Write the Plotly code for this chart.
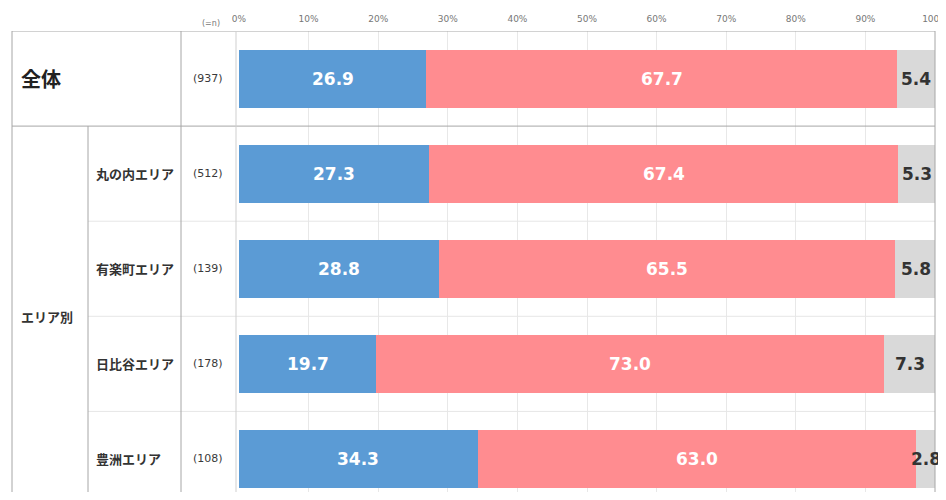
import plotly.graph_objects as go

rows = ["全体", "丸の内エリア", "有楽町エリア", "日比谷エリア", "豊洲エリア"]
n_labels = ["(937)", "(512)", "(139)", "(178)", "(108)"]
group_label = "エリア別"
s1 = [26.9, 27.3, 28.8, 19.7, 34.3]
s2 = [67.7, 67.4, 65.5, 73.0, 63.0]
s3 = [5.4, 5.3, 5.8, 7.3, 2.8]
tick_vals = [0, 10, 20, 30, 40, 50, 60, 70, 80, 90, 100]
tick_text = ["0%", "10%", "20%", "30%", "40%", "50%", "60%", "70%", "80%", "90%", "100%"]

colors = ["#5B9BD5", "#FF8C90", "#D9D9D9"]
series = [s1, s2, s3]
ypos = list(range(len(rows)))

# page body has an 8px margin; compensate so that page pixels match the reference
O = 8
W, H = 938, 484
L = 239 - O
R = W - (935 - O)
T = 31 - O
B = 0
pw = W - L - R

def px(x):
    return (x - O - L) / pw

def py_paper(y):
    return 1 - (y - O - T) / (H - T - B)

fig = go.Figure()
for vals, col in zip(series, colors):
    fig.add_trace(go.Bar(x=vals, y=ypos, orientation="h", marker=dict(color=col, line=dict(width=0)),
                         width=0.61, showlegend=False, hoverinfo="skip"))

# value labels centered in each segment
for i in range(len(rows)):
    cum = 0
    for k, vals in enumerate(series):
        v = vals[i]
        fig.add_annotation(x=cum + v / 2, y=ypos[i], text=f"<b>{v:.1f}</b>", showarrow=False,
                           font=dict(size=17, color="white" if k < 2 else "#333333", family="DejaVu Sans"),
                           xref="x", yref="y")
        cum += v

# row / n labels
fig.add_annotation(x=px(19), y=0, xref="paper", yref="y", text="<b>" + rows[0] + "</b>", showarrow=False,
                   xanchor="left", font=dict(size=20, color="#222222", family="Noto Sans CJK JP"))
for i in range(1, len(rows)):
    fig.add_annotation(x=px(94), y=ypos[i], xref="paper", yref="y", text="<b>" + rows[i] + "</b>", showarrow=False,
                       xanchor="left", font=dict(size=13, color="#333333", family="Noto Sans CJK JP"))
for i in range(len(rows)):
    fig.add_annotation(x=px(208), y=ypos[i], xref="paper", yref="y", text=n_labels[i], showarrow=False,
                       xanchor="center", font=dict(size=11, color="#3A3A3A", family="DejaVu Sans"))
fig.add_annotation(x=px(19), y=(1 + len(rows) - 1) / 2, xref="paper", yref="y",
                   text="<b>" + group_label + "</b>", showarrow=False, xanchor="left",
                   font=dict(size=13, color="#333333", family="Noto Sans CJK JP"))
fig.add_annotation(x=px(211), y=py_paper(23), xref="paper", yref="paper", text="(=n)",
                   showarrow=False, xanchor="center", yanchor="middle",
                   font=dict(size=8, color="#777777", family="DejaVu Sans"))

# table lines
line_dark = "#A6A6A6"
line_faint = "#E6E6E6"
shapes = []
for yv in [-0.5, 0.5]:
    shapes.append(dict(type="line", xref="paper", yref="y", x0=px(12), x1=px(935), y0=yv, y1=yv,
                       line=dict(color=line_dark, width=1)))
for yv in [1.5, 2.5, 3.5]:
    shapes.append(dict(type="line", xref="paper", yref="y", x0=px(88), x1=px(935), y0=yv, y1=yv,
                       line=dict(color=line_faint, width=1)))
for xv, y0 in [(12, -0.5), (181, -0.5), (236, -0.5), (935, -0.5), (88, 0.5)]:
    shapes.append(dict(type="line", xref="paper", yref="y", x0=px(xv), x1=px(xv), y0=y0, y1=5,
                       line=dict(color=line_dark if xv != 236 else "#CFCFCF", width=1)))
fig.update_layout(shapes=shapes)

bottom_px = O + H  # page pixel of plot-area bottom
fig.update_layout(
    barmode="stack",
    width=W, height=H,
    margin=dict(l=L, r=R, t=T, b=B, autoexpand=False),
    paper_bgcolor="white", plot_bgcolor="white",
    xaxis=dict(range=[0, 100], side="top", tickvals=tick_vals, ticktext=tick_text,
               showgrid=True, gridcolor="#E8E8E8", gridwidth=1, zeroline=False,
               tickfont=dict(size=9, color="#777777", family="DejaVu Sans"), ticks="", ticklabelstandoff=6,
               fixedrange=True, ticklabeloverflow="allow"),
    yaxis=dict(range=[(bottom_px - 459) / 95 + 4, -0.5], showgrid=False, zeroline=False, showticklabels=False,
               fixedrange=True),
    font=dict(family="Noto Sans CJK JP"),
)

fig.write_html("out.html")
